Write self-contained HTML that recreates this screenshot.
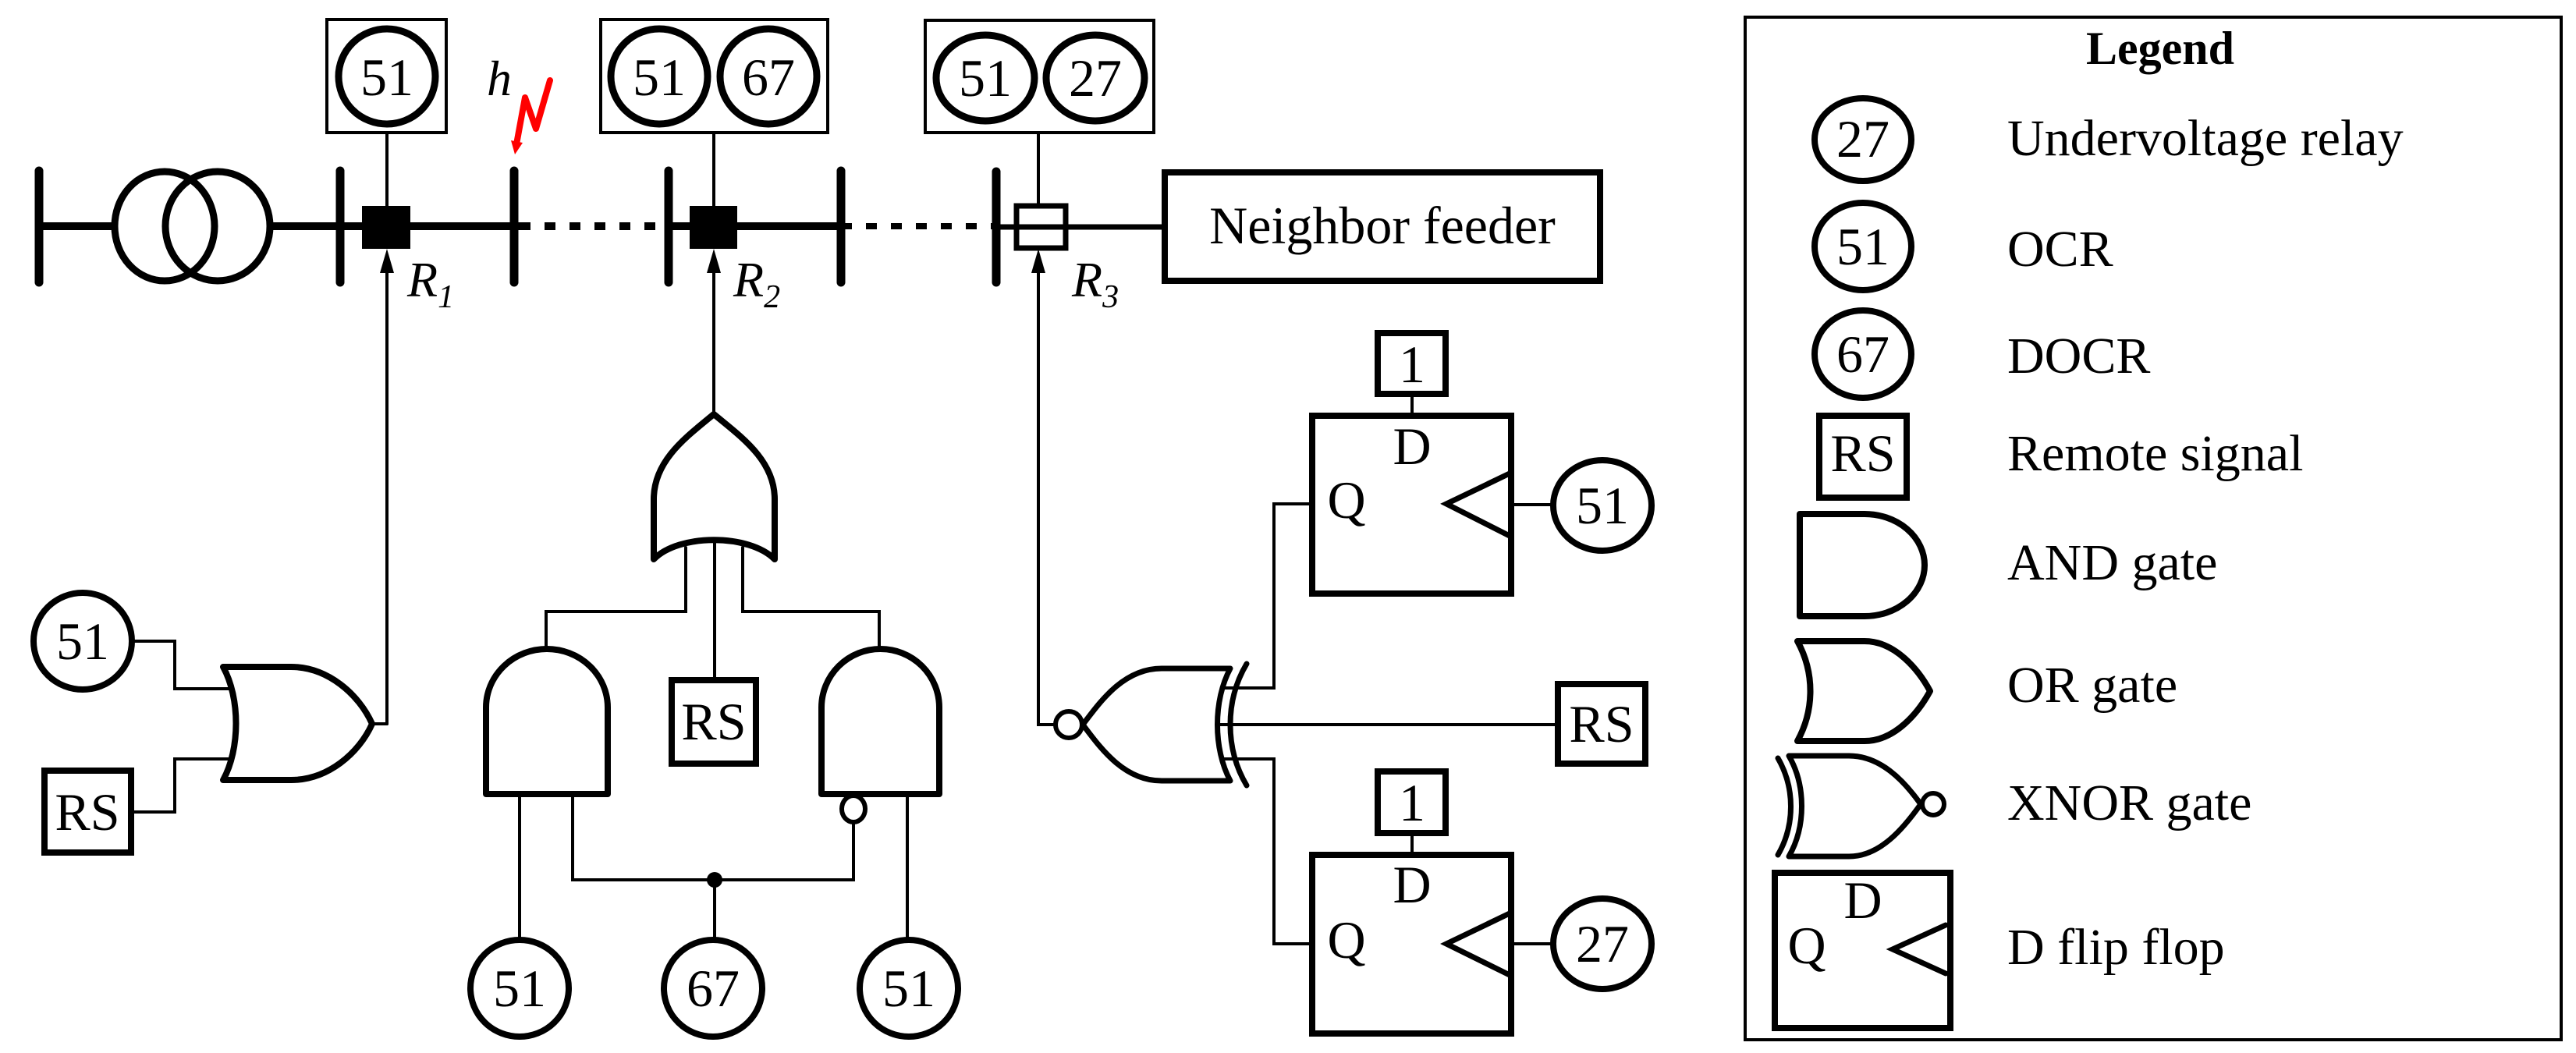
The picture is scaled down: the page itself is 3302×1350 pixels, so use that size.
<!DOCTYPE html>
<html><head><meta charset="utf-8"><style>
html,body{margin:0;padding:0;background:#fff;}
svg{display:block;}
svg text{font-family:"Liberation Serif","DejaVu Serif","Times New Roman",serif !important;fill:#000;}
</style></head><body>
<svg width="3302" height="1350" viewBox="0 0 3302 1350" xmlns="http://www.w3.org/2000/svg" font-family="Liberation Serif, DejaVu Serif, serif">
<g fill="none" stroke="#000" stroke-linecap="round">
<line x1="50" y1="290" x2="144" y2="290" stroke-width="10"/>
<line x1="349" y1="290" x2="666" y2="290" stroke-width="10"/>
<line x1="666" y1="290" x2="857" y2="290" stroke-width="10" stroke-dasharray="14,18" stroke-linecap="butt"/>
<line x1="857" y1="290" x2="1078" y2="290" stroke-width="10"/>
<line x1="1078" y1="290" x2="1277" y2="290" stroke-width="8" stroke-dasharray="14,18" stroke-linecap="butt"/>
<line x1="1277" y1="291" x2="1493" y2="291" stroke-width="7"/>
<line x1="50" y1="219" x2="50" y2="362" stroke-width="11"/>
<line x1="436" y1="219" x2="436" y2="362" stroke-width="11"/>
<line x1="659" y1="219" x2="659" y2="362" stroke-width="11"/>
<line x1="857" y1="219" x2="857" y2="362" stroke-width="11"/>
<line x1="1078" y1="219" x2="1078" y2="362" stroke-width="11"/>
<line x1="1277" y1="220" x2="1277" y2="362" stroke-width="11"/>
<ellipse cx="211" cy="290" rx="64" ry="70" stroke-width="9"/>
<ellipse cx="279" cy="290" rx="67" ry="70" stroke-width="9"/>
<rect x="419" y="25" width="153" height="145" stroke-width="4"/>
<ellipse cx="496" cy="98" rx="62" ry="61" stroke-width="9"/>
<line x1="496" y1="170" x2="496" y2="264" stroke-width="4"/>
<rect x="770" y="25" width="291" height="145" stroke-width="4"/>
<ellipse cx="845" cy="98" rx="62" ry="61" stroke-width="9"/>
<ellipse cx="985" cy="98" rx="62" ry="61" stroke-width="9"/>
<line x1="915" y1="170" x2="915" y2="264" stroke-width="4"/>
<rect x="1186" y="26" width="293" height="144" stroke-width="4"/>
<ellipse cx="1263" cy="100" rx="63" ry="55" stroke-width="9"/>
<ellipse cx="1404" cy="100" rx="63" ry="55" stroke-width="9"/>
<line x1="1331" y1="170" x2="1331" y2="263" stroke-width="4"/>
<rect x="1303" y="264" width="63" height="54" stroke-width="7"/>
<rect x="1493" y="221" width="558" height="139" stroke-width="8"/>
<line x1="496" y1="330" x2="496" y2="928" stroke-width="4"/>
<polyline points="496,928 477,928" stroke-width="4"/>
<path d="M286,855 L373,855 C420,855 460,890 477,928 C460,966 420,1000 373,1000 L286,1000 C308,960 308,895 286,855 Z" stroke-width="8" stroke-linejoin="round"/>
<ellipse cx="106" cy="822" rx="63" ry="62" stroke-width="8"/>
<polyline points="169,822 224,822 224,883 294,883" stroke-width="4"/>
<rect x="57" y="988" width="111" height="105" stroke-width="8"/>
<polyline points="168,1041 224,1041 224,973 294,973" stroke-width="4"/>
<line x1="915" y1="330" x2="915" y2="531" stroke-width="4"/>
<path d="M838,717 L838,640 C838,590 880,560 915,531 C950,560 993,590 993,640 L993,717 C960,684 870,684 838,717 Z" stroke-width="8" stroke-linejoin="round"/>
<polyline points="879,702 879,784 700,784 700,832" stroke-width="4"/>
<polyline points="952,702 952,784 1127,784 1127,832" stroke-width="4"/>
<line x1="916" y1="692" x2="916" y2="871" stroke-width="4"/>
<rect x="861" y="872" width="108" height="107" stroke-width="8"/>
<path d="M623,1018 L623,907 A78,75 0 0 1 779,907 L779,1018 Z" stroke-width="8" stroke-linejoin="round"/>
<path d="M1053,1018 L1053,907 A75.5,75 0 0 1 1204,907 L1204,1018 Z" stroke-width="8" stroke-linejoin="round"/>
<ellipse cx="1094" cy="1037" rx="15" ry="17" stroke-width="6"/>
<line x1="666" y1="1018" x2="666" y2="1204" stroke-width="4"/>
<polyline points="734,1018 734,1128 1094,1128 1094,1054" stroke-width="4"/>
<line x1="916" y1="1128" x2="916" y2="1204" stroke-width="4"/>
<line x1="1163" y1="1018" x2="1163" y2="1204" stroke-width="4"/>
<ellipse cx="666" cy="1267" rx="63" ry="62" stroke-width="8"/>
<ellipse cx="914" cy="1267" rx="63" ry="62" stroke-width="8"/>
<ellipse cx="1165" cy="1267" rx="63" ry="62" stroke-width="8"/>
<polyline points="1331,330 1331,929 1353,929" stroke-width="4"/>
<ellipse cx="1370" cy="929" rx="17" ry="17" stroke-width="6"/>
<path d="M1577,857 L1489,857 C1440,857 1410,900 1388,929 C1410,958 1440,1001 1489,1001 L1577,1001 C1555,960 1555,898 1577,857 Z" stroke-width="7" stroke-linejoin="round"/>
<path d="M1598,851 C1570,898 1570,960 1598,1007" stroke-width="7"/>
<polyline points="1567,882 1633,882 1633,646 1681,646" stroke-width="4"/>
<line x1="1563" y1="929" x2="1996" y2="929" stroke-width="4"/>
<polyline points="1567,973 1633,973 1633,1210 1681,1210" stroke-width="4"/>
<rect x="1997" y="877" width="112" height="102" stroke-width="8"/>
<rect x="1682" y="533" width="255" height="228" stroke-width="8"/>
<rect x="1766" y="427" width="87" height="78" stroke-width="8"/>
<line x1="1810" y1="505" x2="1810" y2="533" stroke-width="4"/>
<polyline points="1935,607 1854,646 1935,687" stroke-width="7"/>
<line x1="1938" y1="647" x2="1991" y2="647" stroke-width="4"/>
<ellipse cx="2054" cy="648" rx="63" ry="58" stroke-width="8"/>
<rect x="1682" y="1096" width="255" height="229" stroke-width="8"/>
<rect x="1766" y="989" width="87" height="79" stroke-width="8"/>
<line x1="1810" y1="1068" x2="1810" y2="1096" stroke-width="4"/>
<polyline points="1935,1171 1854,1210 1935,1250" stroke-width="7"/>
<line x1="1938" y1="1210" x2="1991" y2="1210" stroke-width="4"/>
<ellipse cx="2054" cy="1210" rx="63" ry="58" stroke-width="8"/>
<rect x="2237" y="22" width="1046" height="1311" stroke-width="4"/>
<ellipse cx="2388" cy="179" rx="62" ry="53" stroke-width="8"/>
<ellipse cx="2388" cy="316" rx="62" ry="56" stroke-width="8"/>
<ellipse cx="2388" cy="454" rx="62" ry="56" stroke-width="8"/>
<rect x="2332" y="533" width="112" height="105" stroke-width="8"/>
<path d="M2307,659 L2390,659 A77,65.5 0 0 1 2390,790 L2307,790 Z" stroke-width="8" stroke-linejoin="round"/>
<path d="M2304,822 L2390,822 C2430,822 2460,860 2474,886 C2460,912 2430,950 2390,950 L2304,950 C2326,910 2326,862 2304,822 Z" stroke-width="8" stroke-linejoin="round"/>
<path d="M2293,969 L2370,969 C2410,969 2440,1000 2462,1031 C2440,1062 2410,1098 2370,1098 L2293,1098 C2315,1060 2315,1007 2293,969 Z" stroke-width="7" stroke-linejoin="round"/>
<path d="M2279,972 C2301,1010 2301,1058 2279,1096" stroke-width="7"/>
<ellipse cx="2478" cy="1031" rx="14" ry="14" stroke-width="6"/>
<rect x="2275" y="1119" width="225" height="199" stroke-width="8"/>
<polyline points="2494,1186 2426,1217 2494,1248" stroke-width="7"/>
</g>
<rect x="464" y="264" width="62" height="55" fill="#000"/>
<rect x="884" y="264" width="61" height="55" fill="#000"/>
<polygon points="496,319 487,350 505,350" fill="#000"/>
<polygon points="915,319 906,350 924,350" fill="#000"/>
<polygon points="1331,319 1322,350 1340,350" fill="#000"/>
<circle cx="916" cy="1128" r="10" fill="#000"/>
<polyline points="705,103 687,165 673,125 662,185" fill="none" stroke="#f00" stroke-width="8" stroke-linejoin="round" stroke-linecap="round"/>
<polygon points="655,180 670,183 660,198" fill="#f00"/>
<g font-size="68" text-anchor="middle" font-family="Liberation Serif, serif">
<text x="496" y="122">51</text>
<text x="845" y="122">51</text>
<text x="985" y="122">67</text>
<text x="1263" y="123">51</text>
<text x="1404" y="123">27</text>
<text x="106" y="845">51</text>
<text x="112" y="1064">RS</text>
<text x="915" y="948">RS</text>
<text x="666" y="1290">51</text>
<text x="914" y="1290">67</text>
<text x="1165" y="1290">51</text>
<text x="2053" y="951">RS</text>
<text x="1810" y="490">1</text>
<text x="1810" y="1052">1</text>
<text x="1810" y="595">D</text>
<text x="1810" y="1157">D</text>
<text x="1726" y="664">Q</text>
<text x="1726" y="1228">Q</text>
<text x="2054" y="671">51</text>
<text x="2054" y="1233">27</text>
<text x="2388" y="201">27</text>
<text x="2388" y="339">51</text>
<text x="2388" y="477">67</text>
<text x="2388" y="604">RS</text>
<text x="2388" y="1177">D</text>
<text x="2316" y="1235">Q</text>
<text x="1772" y="312">Neighbor feeder</text>
</g>
<g font-size="64" font-style="italic" font-family="Liberation Serif, serif">
<text x="624" y="122">h</text>
<text x="522" y="380">R<tspan font-size="42" dy="14">1</tspan></text>
<text x="940" y="380">R<tspan font-size="42" dy="14">2</tspan></text>
<text x="1374" y="380">R<tspan font-size="42" dy="14">3</tspan></text>
</g>
<text x="2769" y="82" font-size="60" font-weight="bold" text-anchor="middle" font-family="Liberation Serif, serif">Legend</text>
<g font-size="66" font-family="Liberation Serif, serif">
<text x="2573" y="199">Undervoltage relay</text>
<text x="2573" y="341">OCR</text>
<text x="2573" y="478">DOCR</text>
<text x="2573" y="603">Remote signal</text>
<text x="2573" y="743">AND gate</text>
<text x="2573" y="900">OR gate</text>
<text x="2573" y="1051">XNOR gate</text>
<text x="2573" y="1236">D flip flop</text>
</g>
</svg>
</body></html>
